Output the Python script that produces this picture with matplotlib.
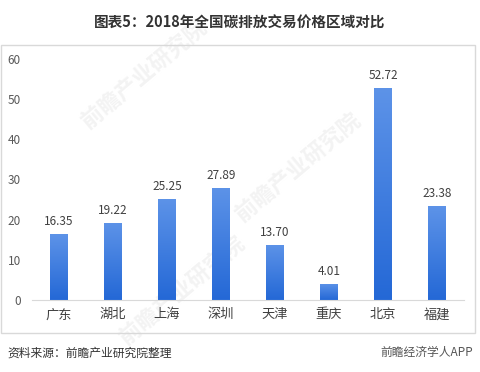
import numpy as np
import matplotlib.pyplot as plt
from matplotlib.patches import Rectangle
from matplotlib.colors import LinearSegmentedColormap

plt.rcParams['font.family'] = ['Noto Sans CJK SC', 'DejaVu Sans']

# 数据
regions = ["广东", "湖北", "上海", "深圳", "天津", "重庆", "北京", "福建"]
prices = [16.35, 19.22, 25.25, 27.89, 13.70, 4.01, 52.72, 23.38]
labels = ["16.35", "19.22", "25.25", "27.89", "13.70", "4.01", "52.72", "23.38"]
yticks = [0, 10, 20, 30, 40, 50, 60]

fig = plt.figure(figsize=(4.8, 3.72), dpi=100)

# 外框
fig.patches.append(Rectangle((0.002, 1 - 333 / 372), 0.988, (333 - 45) / 372,
                             transform=fig.transFigure, fill=False,
                             edgecolor="#D9D9D9", linewidth=1))

ax = fig.add_axes([0.0667, 1 - 300 / 372, 0.9, (300 - 59) / 372])
ax.patch.set_alpha(0)
x = np.arange(len(regions))
bars = ax.bar(x, prices, width=0.32, color="#3C7DE0", zorder=2)

# 渐变填充
cmap = LinearSegmentedColormap.from_list("bl", ["#2468D6", "#5D93E8"])
grad = np.linspace(0, 1, 256).reshape(-1, 1)
for b in bars:
    b.set_facecolor("none")
    x0, w, h = b.get_x(), b.get_width(), b.get_height()
    im = ax.imshow(grad, cmap=cmap, origin="lower", aspect="auto",
                   extent=[x0, x0 + w, 0, h], zorder=2)
    im.set_clip_path(b)

for xi, v, s in zip(x, prices, labels):
    ax.text(xi, v + 1.5, s, ha="center", va="bottom", fontsize=8.5, color="#404040")

ax.set_xlim(-0.5, len(regions) - 0.5)
ax.set_ylim(0, 60)
ax.set_yticks(yticks)
ax.set_xticks(x)
ax.set_xticklabels(regions, fontsize=9.5, color="#404040")
ax.tick_params(axis="y", labelsize=8.5, colors="#595959", length=0, pad=8)
ax.tick_params(axis="x", length=0, pad=6)
for sp in ["top", "right", "left"]:
    ax.spines[sp].set_visible(False)
ax.spines["bottom"].set_color("#D9D9D9")

# 水印（很淡）
for (wx, wy) in [(0.30, 0.80), (0.62, 0.55), (0.38, 0.22)]:
    fig.text(wx, wy, "前瞻产业研究院", fontsize=16, color="#F3F3F3", rotation=40,
             ha="center", va="center", fontweight="bold", zorder=-1)

fig.text(0.5, 0.94, "图表5：2018年全国碳排放交易价格区域对比", ha="center", va="center",
         fontsize=10.5, fontweight="bold", color="#333333")
fig.text(0.015, 0.052, "资料来源：前瞻产业研究院整理", ha="left", va="center",
         fontsize=8.5, style="italic", color="#333333")
fig.text(0.985, 0.052, "前瞻经济学人APP", ha="right", va="center",
         fontsize=8.5, color="#555555")

fig.savefig("out.png", dpi=100)
